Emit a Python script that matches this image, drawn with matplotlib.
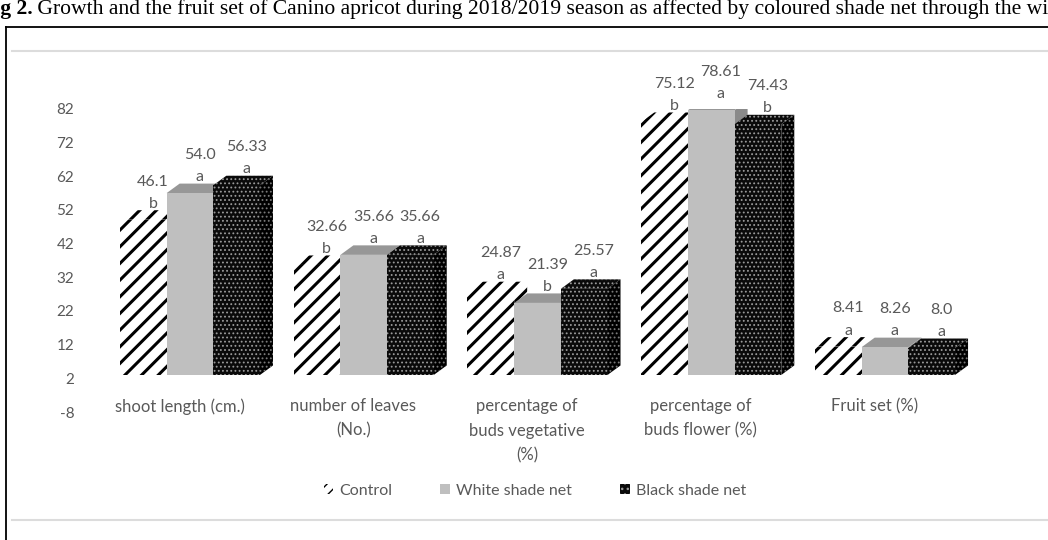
import matplotlib
matplotlib.use("Agg")
import matplotlib.pyplot as plt
from matplotlib.patches import Polygon, Patch
from matplotlib.lines import Line2D

# ---- data -------------------------------------------------------------
categories = [
    "shoot length (cm.)",
    "number of leaves\n(No.)",
    "percentage of\nbuds vegetative\n(%)",
    "percentage of\nbuds flower (%)",
    "Fruit set (%)",
]
series_names = ["Control", "White shade net", "Black shade net"]
control = [46.1, 32.66, 24.87, 75.12, 8.41]
white_net = [54.0, 35.66, 21.39, 78.61, 8.26]
black_net = [56.33, 35.66, 25.57, 74.43, 8.0]
control_letters = ["b", "b", "a", "b", "a"]
white_letters = ["a", "a", "b", "a", "a"]
black_letters = ["a", "a", "a", "b", "a"]
y_ticks = [-8, 2, 12, 22, 32, 42, 52, 62, 72, 82]

caption_bold = "Fig 2."
caption_text = (" Growth and the fruit set of Canino apricot during 2018/2019 season "
                "as affected by coloured shade net through the winter")

# ---- figure geometry (pixels) -----------------------------------------
W, H, DPI = 1048, 540, 100
fig = plt.figure(figsize=(W / DPI, H / DPI), dpi=DPI)
fig.patch.set_facecolor("white")

LABEL_COLOR = "#595959"
FONT = ["Lato", "DejaVu Sans"]

ax_left, ax_right, ax_top, ax_bottom = 94.4, 980.6, 108.9, 412.0
ax = fig.add_axes([ax_left / W, 1 - ax_bottom / H,
                   (ax_right - ax_left) / W, (ax_bottom - ax_top) / H])
ax.set_xlim(-0.55, 4.55)
ax.set_ylim(-8, 82)
ax.patch.set_alpha(0)
for s in ax.spines.values():
    s.set_visible(False)
ax.set_xticks([])
ax.set_yticks(y_ticks)
ax.set_yticklabels([str(t) for t in y_ticks])
ax.tick_params(axis="y", length=0, pad=14.5, labelsize=11, labelcolor=LABEL_COLOR)
for lab in ax.get_yticklabels():
    lab.set_fontfamily(FONT)

# 3-D box parameters
bar_w = 0.2686          # bar width in category units
floor = 3.0             # front floor level of the 3-D box
depth_x = 13 / 173.75   # receding offset, x units
depth_y = 9.5 / 3.368   # receding offset, y units

styles = [
    dict(front=dict(facecolor="white", edgecolor="black", hatch="//"),
         top=dict(facecolor="white", edgecolor="black", hatch="//"),
         side=dict(facecolor="white", edgecolor="black", hatch="//"),
         hlw=2.2),
    dict(front=dict(facecolor="#BFBFBF", edgecolor="none"),
         top=dict(facecolor="#979797", edgecolor="none"),
         side=dict(facecolor="#8A8A8A", edgecolor="none"),
         hlw=1.0),
    dict(front=dict(facecolor="#0a0a0a", edgecolor="#9a9a9a", hatch="...."),
         top=dict(facecolor="#0a0a0a", edgecolor="#9a9a9a", hatch="...."),
         side=dict(facecolor="#000000", edgecolor="#7a7a7a", hatch="...."),
         hlw=0.8),
]


def make_patch(verts, style, hlw, z):
    with plt.rc_context({"hatch.linewidth": hlw}):
        p = Polygon(verts, closed=True, linewidth=0, zorder=z, **style)
    if hasattr(p, "set_hatch_linewidth") and style.get("hatch"):
        p.set_hatch_linewidth(hlw)
    ax.add_patch(p)
    return p


all_series = [control, white_net, black_net]
all_letters = [control_letters, white_letters, black_letters]

z = 2
for i in range(len(categories)):
    for k, (vals, letters) in enumerate(zip(all_series, all_letters)):
        v = vals[i]
        st = styles[k]
        x0 = i - 1.5 * bar_w + k * bar_w
        x1 = x0 + bar_w
        yb, yt = floor, floor + v
        side = [(x1, yb), (x1 + depth_x, yb + depth_y),
                (x1 + depth_x, yt + depth_y), (x1, yt)]
        top = [(x0, yt), (x1, yt), (x1 + depth_x, yt + depth_y),
               (x0 + depth_x, yt + depth_y)]
        front = [(x0, yb), (x1, yb), (x1, yt), (x0, yt)]
        make_patch(side, st["side"], st["hlw"], z)
        make_patch(top, st["top"], st["hlw"], z + 0.1)
        make_patch(front, st["front"], st["hlw"], z + 0.2)
        z += 1
        # value and significance letter above each bar
        ax.annotate(str(v), xy=(x0 + bar_w / 2, yt), xytext=(7, 27.5),
                    textcoords="offset points", ha="center", va="center",
                    fontsize=11.5, color=LABEL_COLOR, family=FONT,
                    annotation_clip=False, zorder=100)
        ax.annotate(letters[i], xy=(x0 + bar_w / 2, yt), xytext=(7, 11.5),
                    textcoords="offset points", ha="center", va="center",
                    fontsize=11.5, color=LABEL_COLOR, family=FONT,
                    annotation_clip=False, zorder=100)

# category labels on the front floor
for i, cat in enumerate(categories):
    ax.annotate(cat, xy=(i - 0.06, 0), xycoords=("data", "axes fraction"),
                xytext=(0, 10), textcoords="offset points",
                ha="center", va="top", multialignment="center",
                fontsize=12, color=LABEL_COLOR, family=FONT,
                linespacing=1.65, annotation_clip=False)

# legend
handles = [
    Patch(facecolor="white", edgecolor="black", hatch="///", linewidth=0),
    Patch(facecolor="#BFBFBF", edgecolor="none"),
    Patch(facecolor="#0a0a0a", edgecolor="#9a9a9a", hatch="...", linewidth=0),
]
leg = fig.legend(handles, series_names, loc="center",
                 bbox_to_anchor=(535 / W, 1 - 491 / H), ncol=3, frameon=False,
                 handlelength=0.6, handleheight=0.6, handletextpad=0.4,
                 columnspacing=3.0,
                 prop={"family": FONT, "size": 11.5})
for t in leg.get_texts():
    t.set_color(LABEL_COLOR)

# chart-area border lines and outer frame
def hline(y, x0, x1, color, lw):
    fig.add_artist(Line2D([x0 / W, x1 / W], [1 - y / H, 1 - y / H],
                          color=color, linewidth=lw, transform=fig.transFigure))

def vline(x, y0, y1, color, lw):
    fig.add_artist(Line2D([x / W, x / W], [1 - y0 / H, 1 - y1 / H],
                          color=color, linewidth=lw, transform=fig.transFigure))

hline(51, 12, W, "#dcdcdc", 1.5)
hline(520, 12, W, "#dcdcdc", 1.5)
hline(27, 5.5, W, "black", 1.3)
vline(5.5, 27, H, "black", 1.3)

# caption, running past the page edges
renderer = fig.canvas.get_renderer()
cap_size = 15.6
probe = fig.text(0, 0, "Fi", fontsize=cap_size, fontweight="bold",
                 family="Liberation Serif")
fi_w = probe.get_window_extent(renderer).width
probe.remove()
t_bold = fig.text(-fi_w / W, 1 - 14 / H, caption_bold, fontsize=cap_size,
                  fontweight="bold", family="Liberation Serif", va="baseline")
bw = t_bold.get_window_extent(renderer).width
fig.text((-fi_w + bw) / W, 1 - 14 / H, caption_text, fontsize=cap_size,
         family="Liberation Serif", va="baseline")

fig.savefig("out.png", dpi=DPI)
